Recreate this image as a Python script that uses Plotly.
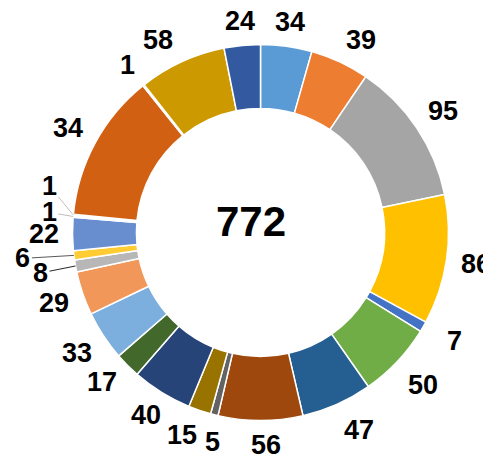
import numpy as np
import plotly.graph_objects as go

# slice values (clockwise from 12 o'clock) and the label shown on each
values = [34, 39, 95, 86, 7, 50, 47, 56, 5, 15, 40, 17, 33, 29, 8, 6, 22, 1, 1, 98, 1, 58, 24]
labels = ["34", "39", "95", "86", "7", "50", "47", "56", "5", "15", "40", "17",
          "33", "29", "8", "6", "22", "1", "1", "34", "1", "58", "24"]
colors = ["#5B9BD5", "#ED7D31", "#A5A5A5", "#FFC000", "#4472C4", "#70AD47",
          "#255E91", "#9E480E", "#636363", "#997300", "#264478", "#43682B",
          "#7CAFDD", "#F1975A", "#B7B7B7", "#FFCD33", "#698ED0", "#E2EFDA",
          "#DDEBF7", "#D26012", "#EDEDED", "#CC9A00", "#335AA1"]
total = "772"

W, H = 491, 461
OFF = 8                          # the page body adds an 8px margin, compensate
cx, cy, R = 260.5, 232.5, 188    # pie centre (px from top-left of window) and radius
fs = 27                          # label font size


def px(x):
    return (x - OFF) / W


def py(y):
    return (H - (y - OFF)) / H


fig = go.Figure(go.Pie(
    values=values,
    textinfo="none",
    marker=dict(colors=colors, line=dict(color="white", width=1.5)),
    hole=0.66,
    sort=False,
    direction="clockwise",
    rotation=0,
    showlegend=False,
    hoverinfo="none",
    domain=dict(x=[px(cx - R), px(cx + R)], y=[py(cy + R), py(cy - R)]),
))

# data labels placed just outside the ring at each slice's mid angle
vals = np.array(values, dtype=float)
mid = (np.cumsum(vals) - vals / 2) / vals.sum() * 2 * np.pi
# small slices get a leader line (label offset in px from slice edge)
leaders = {14: (-35, 7, "#262626"), 15: (-51, 3, "#595959"),
           17: (-24, -4, "#BFBFBF"), 18: (-24, -29, "#BFBFBF")}
# small best-fit nudges (px) where labels were pushed apart
nudges = {1: (9, 4), 4: (10, 2), 5: (3, 2), 6: (10, 0), 7: (5, 2), 8: (4, 4),
          9: (-9, -1), 10: (0, -3), 11: (-4, -5), 21: (-12, 4)}
font = dict(family="Liberation Sans", size=fs, color="black")
for i, (lab, a) in enumerate(zip(labels, mid)):
    s, c = np.sin(a), np.cos(a)
    if i in leaders:
        ax, ay, lc = leaders[i]
        fig.add_annotation(x=px(cx + R * s), y=py(cy - R * c), xref="paper", yref="paper",
                           text="<b>" + lab + "</b>", showarrow=True, arrowhead=0,
                           arrowwidth=1, arrowcolor=lc, ax=ax, ay=ay, standoff=0, font=font)
        continue
    w = 0.59 * fs * len(lab)
    h = 0.8 * fs
    d = R + 12 + abs(s) * w / 2 + abs(c) * h / 2
    nx, ny = nudges.get(i, (0, 0))
    fig.add_annotation(x=px(cx + d * s + nx), y=py(cy - d * c + ny), xref="paper", yref="paper",
                       text="<b>" + lab + "</b>", showarrow=False,
                       xanchor="center", yanchor="middle", font=font)

fig.add_annotation(text="<b>" + total + "</b>", x=px(250.5), y=py(221),
                   xref="paper", yref="paper", showarrow=False,
                   font=dict(family="Liberation Sans", size=42, color="black"))

fig.update_layout(width=W, height=H, margin=dict(l=0, r=0, t=0, b=0),
                  paper_bgcolor="white", plot_bgcolor="white")

fig.write_html("out.html")
